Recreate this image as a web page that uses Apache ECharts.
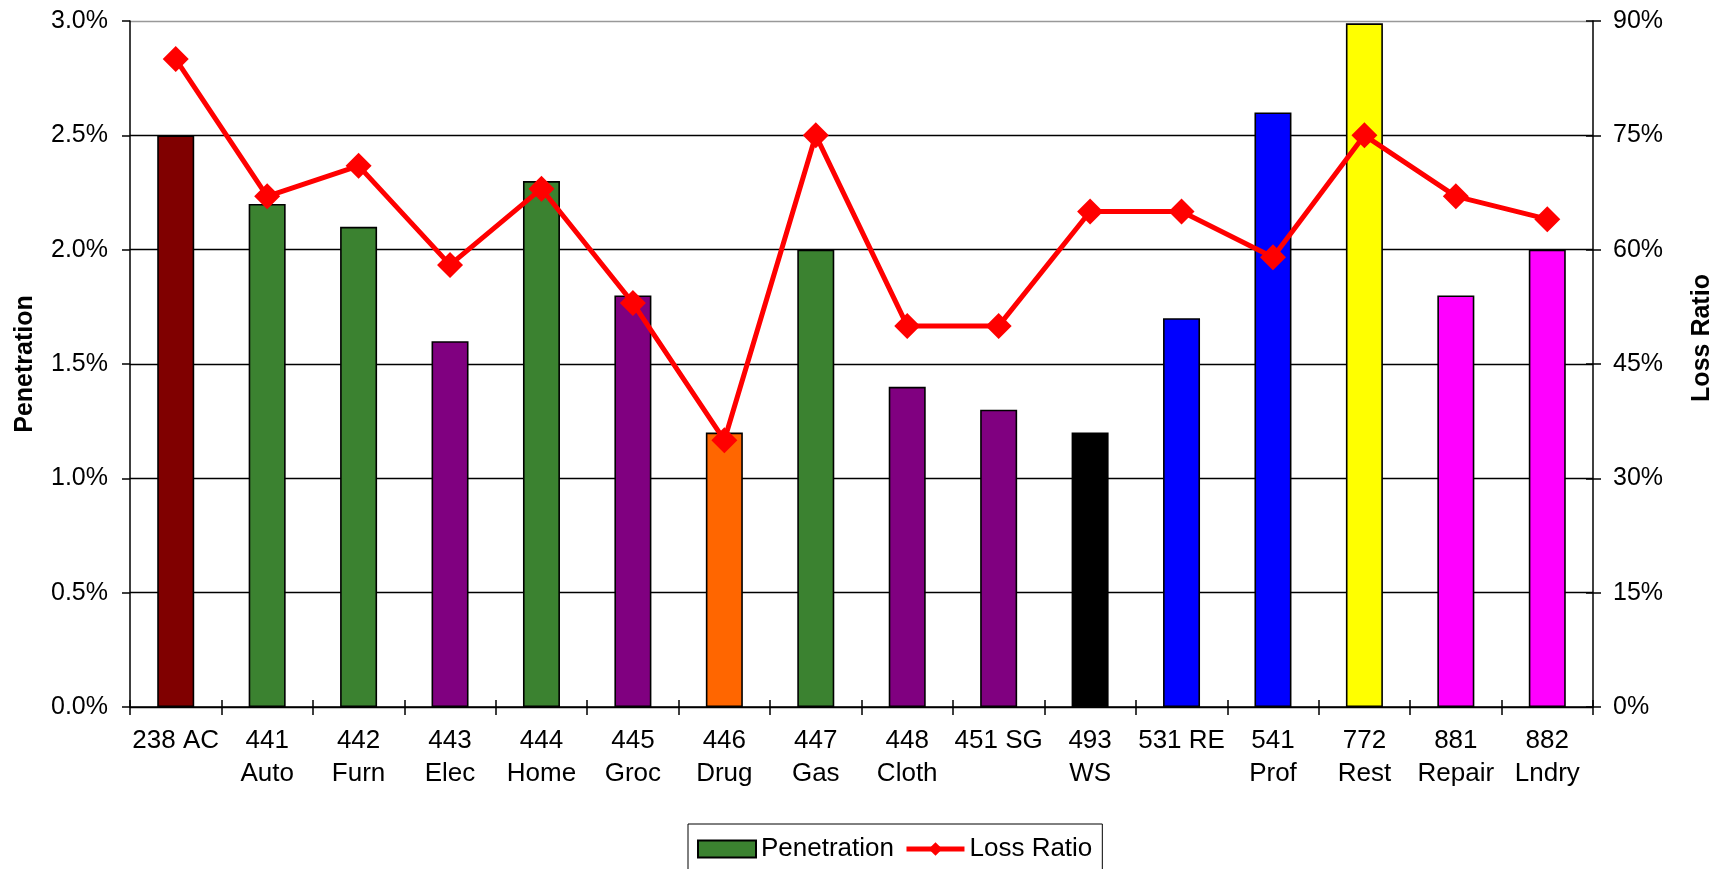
<!DOCTYPE html>
<html>
<head>
<meta charset="utf-8">
<script src="https://cdn.jsdelivr.net/npm/echarts@6/dist/echarts.min.js"></script>
<style>
html,body{margin:0;padding:0;background:#fff;}
#chart{width:1726px;height:869px;}
</style>
</head>
<body>
<div id="chart"></div>
<script>
const categories = ['238 AC','441\nAuto','442\nFurn','443\nElec','444\nHome','445\nGroc','446\nDrug','447\nGas','448\nCloth','451 SG','493\nWS','531 RE','541\nProf','772\nRest','881\nRepair','882\nLndry'];
const penetration = [2.5, 2.2, 2.1, 1.6, 2.3, 1.8, 1.2, 2.0, 1.4, 1.3, 1.2, 1.7, 2.6, 2.99, 1.8, 2.0];
const lossRatio = [85, 67, 71, 58, 68, 53, 35, 75, 50, 50, 65, 65, 59, 75, 67, 64];
const leftTicks = [0, 0.5, 1.0, 1.5, 2.0, 2.5, 3.0];
const rightTicks = [0, 15, 30, 45, 60, 75, 90];

const barColors = ['#800000','#3B8230','#3B8230','#800080','#3B8230','#800080','#FF6600','#3B8230','#800080','#800080','#000000','#0000FF','#0000FF','#FFFF00','#FF00FF','#FF00FF'];
const FONT = 'Liberation Sans, Arial, sans-serif';

const chart = echarts.init(document.getElementById('chart'));
chart.setOption({
  animation: false,
  backgroundColor: '#fff',
  textStyle: {fontFamily: FONT, color: '#000'},
  grid: {left: 130, right: 133, top: 21, bottom: 162, containLabel: false, outerBoundsMode: 'none'},
  legend: {
    left: 688, top: 824,
    padding: [12, 10, 14, 9],
    borderColor: '#000', borderWidth: 1,
    itemWidth: 58, itemHeight: 17, itemGap: 10,
    textStyle: {fontSize: 26, fontFamily: FONT, color: '#000'},
    lineStyle: {width: 5},
    data: [{name: 'Penetration', icon: 'rect'}, {name: 'Loss Ratio'}]
  },
  xAxis: [{
    type: 'category',
    data: categories,
    axisLine: {lineStyle: {color: '#000', width: 1.5}},
    axisTick: {show: true, length: 8, lineStyle: {color: '#000', width: 1.5}},
    axisLabel: {fontSize: 26, color: '#000', fontFamily: FONT, lineHeight: 33, margin: 17, interval: 0}
  }, {
    type: 'category',
    data: categories,
    position: 'bottom',
    axisLine: {show: false},
    axisTick: {show: true, inside: true, length: 7, lineStyle: {color: '#000', width: 1.5}},
    axisLabel: {show: false}
  }],
  yAxis: [{
    type: 'value',
    min: leftTicks[0], max: leftTicks[leftTicks.length - 1], interval: 0.5,
    name: 'Penetration', nameLocation: 'middle', nameGap: 92, nameMoveOverlap: false,
    nameTextStyle: {fontSize: 25, fontWeight: 'bold', fontFamily: FONT, color: '#000'},
    axisLine: {show: true, lineStyle: {color: '#000', width: 1.5}},
    axisTick: {show: true, length: 8, lineStyle: {color: '#000', width: 1.5}},
    axisLabel: {fontSize: 25, color: '#000', fontFamily: FONT, margin: 22, formatter: v => v.toFixed(1) + '%'},
    splitLine: {show: true, lineStyle: {color: ['#000','#000','#000','#000','#000','#000','#999'], width: 1.4}}
  }, {
    type: 'value',
    min: rightTicks[0], max: rightTicks[rightTicks.length - 1], interval: 15,
    position: 'right',
    name: 'Loss Ratio', nameLocation: 'middle', nameGap: 97, nameMoveOverlap: false,
    nameTextStyle: {fontSize: 25, fontWeight: 'bold', fontFamily: FONT, color: '#000', padding: [0, 0, 0, 52]},
    axisLine: {show: true, lineStyle: {color: '#000', width: 1.5}},
    axisTick: {show: true, length: 8, lineStyle: {color: '#000', width: 1.5}},
    axisLabel: {fontSize: 25, color: '#000', fontFamily: FONT, margin: 20, formatter: v => v + '%'},
    splitLine: {show: false}
  }, {
    type: 'value',
    min: rightTicks[0], max: rightTicks[rightTicks.length - 1], interval: 15,
    position: 'right',
    axisLine: {show: false},
    axisTick: {show: true, inside: true, length: 7, lineStyle: {color: '#000', width: 1.5}},
    axisLabel: {show: false},
    splitLine: {show: false}
  }],
  series: [{
    name: 'Penetration',
    type: 'bar',
    xAxisIndex: 0, yAxisIndex: 0,
    barWidth: 37,
    itemStyle: {color: '#3B8230', borderColor: '#000', borderWidth: 1.6},
    data: penetration.map((v, i) => ({value: v, itemStyle: {color: barColors[i]}}))
  }, {
    name: 'Loss Ratio',
    type: 'line',
    xAxisIndex: 0, yAxisIndex: 1,
    data: lossRatio,
    symbol: 'diamond',
    symbolSize: 26,
    lineStyle: {color: '#FF0000', width: 5},
    itemStyle: {color: '#FF0000'},
    z: 5
  }]
});
</script>
</body>
</html>
